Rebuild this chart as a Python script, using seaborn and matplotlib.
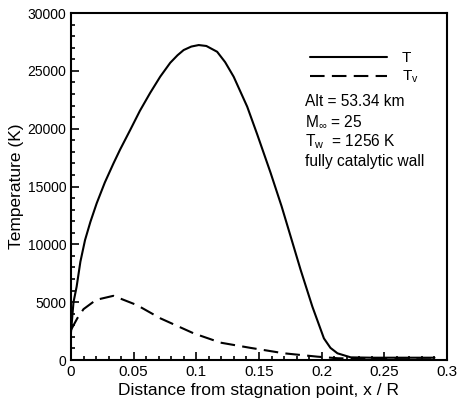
import numpy as np
import pandas as pd
import matplotlib
matplotlib.use("Agg")
import matplotlib.pyplot as plt
import seaborn as sns
from matplotlib.ticker import MultipleLocator
from matplotlib.lines import Line2D

# Data
x_T = [0.0, 0.002, 0.0045, 0.0075, 0.0112, 0.0155, 0.0205, 0.027, 0.0339, 0.0392,
       0.0472, 0.055, 0.0632, 0.0712, 0.0792, 0.0850, 0.0899, 0.0960, 0.1019, 0.1080,
       0.1166, 0.1230, 0.1298, 0.1406, 0.1486, 0.1592, 0.1680, 0.1752, 0.1832, 0.1926,
       0.2018, 0.2070, 0.2126, 0.2232, 0.2400, 0.2900]
T_vals = [2400, 5000, 6340, 8500, 10370, 11950, 13550, 15350, 17000, 18200,
          19880, 21550, 23100, 24500, 25700, 26350, 26800, 27100, 27230, 27150,
          26650, 25750, 24490, 21900, 19500, 16200, 13300, 10700, 7800, 4610,
          1870, 1050, 580, 230, 200, 200]

x_Tv = [0.0, 0.005, 0.010, 0.020, 0.0338, 0.0526, 0.0714, 0.098, 0.1194, 0.1432,
        0.170, 0.1966, 0.213, 0.250, 0.290]
Tv_vals = [2600, 3600, 4400, 5200, 5550, 4750, 3600, 2300, 1500, 1050,
           580, 290, 150, 80, 50]

x_ticks = [0, 0.05, 0.1, 0.15, 0.2, 0.25, 0.3]
x_tick_labels = ["0", "0.05", "0.1", "0.15", "0.2", "0.25", "0.3"]
y_ticks = [0, 5000, 10000, 15000, 20000, 25000, 30000]
y_tick_labels = ["0", "5000", "10000", "15000", "20000", "25000", "30000"]

annotation_lines = ["Alt = 53.34 km", r"M$_\infty$ = 25", r"T$_\mathrm{w}$  = 1256 K", "fully catalytic wall"]

sns.set_style("ticks")
plt.rcParams['font.family'] = ['Liberation Sans', 'DejaVu Sans']
plt.rcParams['mathtext.fontset'] = 'custom'
plt.rcParams['mathtext.rm'] = 'Liberation Sans'
plt.rcParams['mathtext.it'] = 'Liberation Sans:italic'
plt.rcParams['text.color'] = 'black'
plt.rcParams['axes.labelcolor'] = 'black'

fig = plt.figure(figsize=(4.58, 4.08), dpi=100)
ax = fig.add_axes([0.155, 0.1176, 0.821, 0.8505])

dfT = pd.DataFrame({"x": x_T, "y": T_vals})
dfTv = pd.DataFrame({"x": x_Tv, "y": Tv_vals})
sns.lineplot(data=dfT, x="x", y="y", ax=ax, color="black", linewidth=1.5, estimator=None, sort=False)
sns.lineplot(data=dfTv, x="x", y="y", ax=ax, color="black", linewidth=1.5, estimator=None, sort=False)
ax.lines[1].set_dashes([7, 3.5])

ax.set_xlim(0, 0.3)
ax.set_ylim(0, 30000)
ax.set_xticks(x_ticks)
ax.set_xticklabels(x_tick_labels, fontsize=11)
ax.set_yticks(y_ticks)
ax.set_yticklabels(y_tick_labels, fontsize=10)
ax.xaxis.set_minor_locator(MultipleLocator(0.01))
ax.yaxis.set_minor_locator(MultipleLocator(1000))
ax.tick_params(which="both", direction="in", top=False, right=False, width=1.2, colors="black")
ax.tick_params(which="major", length=6)
ax.tick_params(which="minor", length=3)
for s in ax.spines.values():
    s.set_linewidth(1.5)
    s.set_color("black")

ax.set_xlabel("Distance from stagnation point, x / R", fontsize=12.5, labelpad=3)
ax.set_ylabel("Temperature (K)", fontsize=12.5, labelpad=2)

handles = [Line2D([], [], color="black", lw=1.5),
           Line2D([], [], color="black", lw=1.5, dashes=[7, 3.5])]
ax.legend(handles, ["T", r"T$_\mathrm{v}$"], loc="upper left", bbox_to_anchor=(0.6, 0.93),
          frameon=False, handlelength=5.0, handletextpad=1.0, fontsize=11, labelspacing=0.25)

for i, line in enumerate(annotation_lines):
    ax.text(0.623, 0.745 - i * 0.058, line, transform=ax.transAxes, fontsize=11.2, va="center", ha="left")

fig.savefig("out.png", dpi=100)
